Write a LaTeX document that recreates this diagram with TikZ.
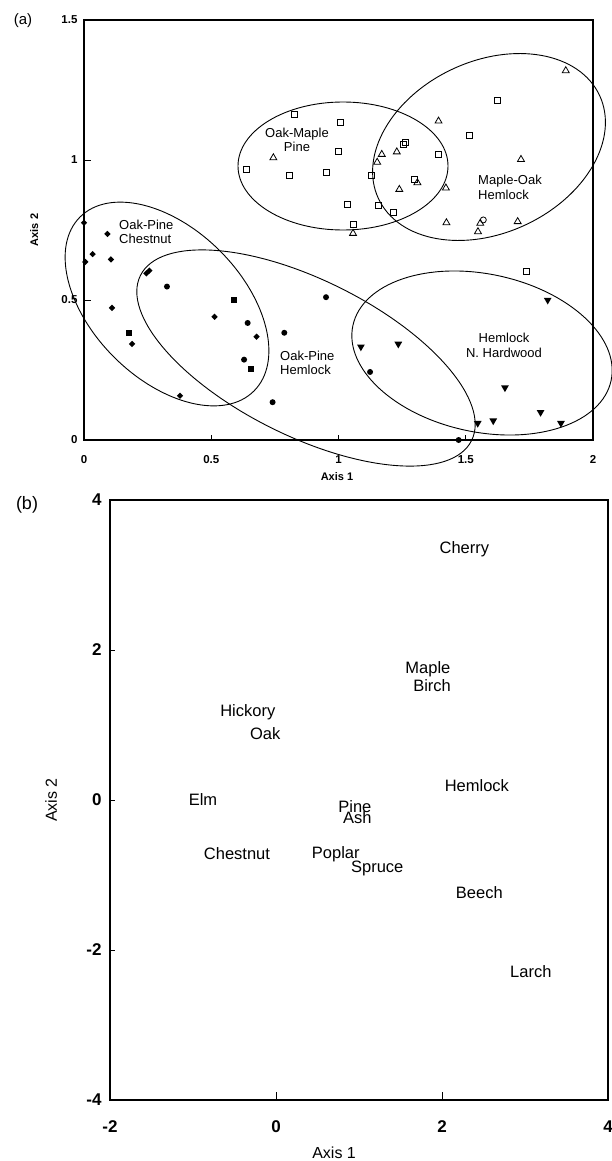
\documentclass[tikz,border=0pt]{standalone}
\usepackage{fontspec}
\setmainfont{Liberation Sans}
\usepackage{tikz}
\usetikzlibrary{shapes.geometric}

\begin{document}
\begin{tikzpicture}[x=1pt,y=-1pt,
  fdia/.style={diamond,fill=black,inner sep=0pt,minimum size=6.5pt},
  fdot/.style={circle,fill=black,inner sep=0pt,minimum size=6pt},
  fsq/.style={rectangle,fill=black,inner sep=0pt,minimum size=6pt},
  osq/.style={rectangle,draw,line width=0.9pt,inner sep=0pt,minimum size=6pt},
  otri/.style={regular polygon,regular polygon sides=3,draw,line width=0.8pt,inner sep=0pt,minimum size=8pt},
  ftri/.style={regular polygon,regular polygon sides=3,shape border rotate=180,fill=black,inner sep=0pt,minimum size=9pt},
  ocirc/.style={circle,draw,line width=0.8pt,inner sep=0pt,minimum size=6pt},
  grp/.style={font=\fontsize{13}{14.5}\selectfont,inner sep=0pt},
  tka/.style={font=\fontsize{11.5}{12}\selectfont\bfseries,inner sep=0pt},
  tta/.style={font=\fontsize{11}{12}\selectfont\bfseries,inner sep=0pt},
  spp/.style={font=\fontsize{16.5}{17}\selectfont,inner sep=0pt},
  tkb/.style={font=\fontsize{17}{18}\selectfont\bfseries,inner sep=0pt},
  ttb/.style={font=\fontsize{16}{17}\selectfont,inner sep=0pt},
  pnl/.style={font=\fontsize{15}{16}\selectfont,inner sep=0pt},
  hull/.style={line width=0.9pt}]
\useasboundingbox (0,0) rectangle (612,1161);

% panel (a): sample plots on axes 1 and 2
\node[pnl] (pa) at (23,21) {(a)};
\begin{scope}[shift={(84pt,-440pt)},x=254.5pt,y=280pt]
\draw[line width=1.1pt] (0,0) rectangle (2,1.5);
\foreach \v in {0.5,1} \draw[line width=0.8pt] (0,\v) -- ++(7pt,0);
\foreach \v in {0.5,1,1.5} \draw[line width=0.8pt] (\v,0) -- ++(0,5pt);
\node[tka,anchor=east] (ya0) at (-0.025,0) {0};
\node[tka,anchor=east] (ya1) at (-0.025,0.5) {0.5};
\node[tka,anchor=east] (ya2) at (-0.025,1) {1};
\node[tka,anchor=east] (ya3) at (-0.025,1.5) {1.5};
\node[tka] (xa0) at (0,-0.071) {0};
\node[tka] (xa1) at (0.5,-0.071) {0.5};
\node[tka] (xa2) at (1,-0.071) {1};
\node[tka] (xa3) at (1.5,-0.071) {1.5};
\node[tka] (xa4) at (2,-0.071) {2};
\node[tta] (axa1) at (0.994,-0.132) {Axis 1};
\node[tta,rotate=90] (axa2) at (-0.196,0.75) {Axis 2};
% markers, one list per group
\foreach \x/\y [count=\i] in {0/0.776,0.092/0.736,0.034/0.664,0.005/0.636,0.106/0.645,0.245/0.595,0.257/0.605,0.11/0.472,0.189/0.343,0.513/0.44,0.678/0.369,0.377/0.158}
  \node[fdia] (dia\i) at (\x,\y) {};
\foreach \x/\y [count=\i] in {0.326/0.548,0.643/0.418,0.629/0.287,0.787/0.383,0.951/0.51,0.741/0.135,1.124/0.243,1.472/0}
  \node[fdot] (dot\i) at (\x,\y) {};
\foreach \x/\y [count=\i] in {0.178/0.383,0.588/0.501,0.656/0.253}
  \node[fsq] (fsq\i) at (\x,\y) {};
\foreach \x/\y [count=\i] in {1.088/0.333,1.235/0.343,1.822/0.5,1.654/0.187,1.794/0.099,1.874/0.06,1.608/0.069,1.547/0.06}
  \node[ftri] (dtr\i) at (\x,\y) {};
\foreach \x/\y [count=\i] in {0.826/1.164,1.006/1.134,0.999/1.032,0.637/0.968,0.809/0.944,0.951/0.955,1.257/1.057,1.262/1.064,1.129/0.945,1.298/0.929,1.035/0.842,1.157/0.836,1.215/0.814,1.057/0.77,1.626/1.212,1.514/1.087,1.393/1.02,1.737/0.601}
  \node[osq] (osq\i) at (\x,\y) {};
\foreach \x/\y [count=\i] in {0.744/1.008,1.17/1.02,1.152/0.992,1.229/1.029,1.31/0.919,1.239/0.895,1.057/0.738,1.893/1.319,1.393/1.139,1.717/1.002,1.422/0.9,1.424/0.776,1.557/0.774,1.548/0.744,1.704/0.78}
  \node[otri] (utr\i) at (\x,\y) {};
\node[ocirc] (oc1) at (1.569,0.786) {};
\end{scope}
% group ellipses
\draw[hull,rotate around={-45:(167,304)}] (167,304) ellipse [x radius=123,y radius=75];
\draw[hull,rotate around={-26.5:(306,358)}] (306,358) ellipse [x radius=185,y radius=78];
\draw[hull] (343,166) ellipse [x radius=105,y radius=64];
\draw[hull,rotate around={25:(489,147)}] (489,147) ellipse [x radius=122,y radius=86];
\draw[hull,rotate around={-12:(482,353)}] (482,353) ellipse [x radius=132,y radius=79];
\node[grp,anchor=west,align=left] (opc) at (119,232) {Oak-Pine\\Chestnut};
\node[grp,align=center] (omp) at (297,140) {Oak-Maple\\Pine};
\node[grp,anchor=west,align=left] (moh) at (478,187.5) {Maple-Oak\\Hemlock};
\node[grp,anchor=west,align=left] (oph) at (280,363) {Oak-Pine\\Hemlock};
\node[grp,align=center] (hnh) at (504,345.5) {Hemlock\\N. Hardwood};

% panel (b): species scores
\node[pnl,font=\fontsize{18}{19}\selectfont] (pb) at (27,505) {(b)};
\begin{scope}[shift={(276pt,-800pt)},x=83pt,y=75pt]
\draw[line width=1.3pt] (-2,-4) rectangle (4,4);
\foreach \v in {0,2} \draw[line width=0.9pt] (\v,-4) -- ++(0,8pt);
\foreach \v in {-2,0,2} \draw[line width=0.9pt] (-2,\v) -- ++(5pt,0);
\foreach \v in {-4,-2,0,2,4} \node[tkb,anchor=east] (yb\v) at (-2.1,\v) {\v};
\foreach \v in {-2,0,2,4} \node[tkb] (xb\v) at (\v,-4.36) {\v};
\node[ttb] (axb1) at (0.7,-4.71) {Axis 1};
\node[ttb,rotate=90] (axb2) at (-2.71,0) {Axis 2};
\node[spp] (cherry) at (2.27,3.35) {Cherry};
\node[spp] (maple) at (1.83,1.75) {Maple};
\node[spp] (birch) at (1.88,1.52) {Birch};
\node[spp] (hickory) at (-0.34,1.17) {Hickory};
\node[spp] (oak) at (-0.13,0.89) {Oak};
\node[spp] (hemlock) at (2.42,0.19) {Hemlock};
\node[spp] (elm) at (-0.88,0.01) {Elm};
\node[spp] (pine) at (0.95,-0.09) {Pine};
\node[spp] (ash) at (0.98,-0.23) {Ash};
\node[spp] (chestnut) at (-0.47,-0.72) {Chestnut};
\node[spp] (poplar) at (0.72,-0.72) {Poplar};
\node[spp] (spruce) at (1.22,-0.91) {Spruce};
\node[spp] (beech) at (2.45,-1.24) {Beech};
\node[spp] (larch) at (3.07,-2.29) {Larch};
\end{scope}
\end{tikzpicture}
\end{document}
